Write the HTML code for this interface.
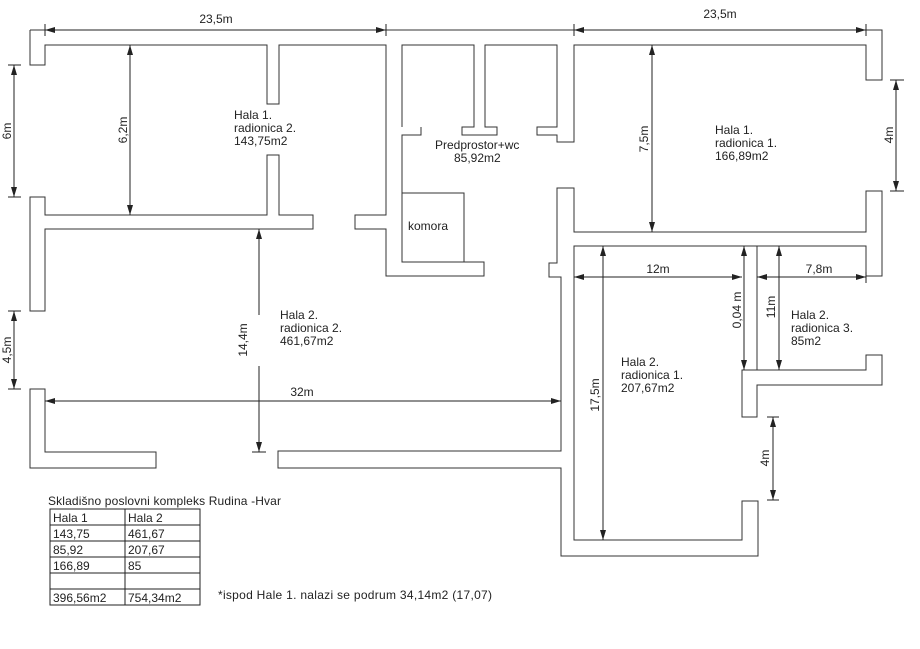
<!DOCTYPE html>
<html><head><meta charset="utf-8"><style>
html,body{margin:0;padding:0;background:#fff;}
svg{display:block;}
text{font-family:"Liberation Sans",Verdana,sans-serif;font-size:12px;fill:#222;}
</style></head><body>
<svg width="920" height="649" viewBox="0 0 920 649" xmlns="http://www.w3.org/2000/svg">
<defs>
<marker id="a" viewBox="0 0 10 6" refX="10" refY="3" markerWidth="10" markerHeight="6" markerUnits="userSpaceOnUse" orient="auto-start-reverse">
<path d="M0,0 L10,3 L0,6 Z" fill="#222"/></marker>
</defs>
<g fill="none" stroke="#333" stroke-width="1">
<polyline points="30,30 30,65 45,65 45,45 267,45 267,104 279,104 279,45 386,45 386,215 355,215 355,229 386,229 386,276 484,276 484,262 402,262 402,135 421,135 421,127"/>
<polyline points="30,30 882,30 882,80 866,80 866,45 574,45 574,142 557,142 557,135 537,135 537,127 557,127 557,45 485,45 485,127 497,127 497,135 462,135 462,127 474,127 474,45 402,45 402,127"/>
<polygon points="267,155 267,215 45,215 45,197 30,197 30,311 45,311 45,229 313,229 313,215 279,215 279,155"/>
<polyline points="402,193 464,193 464,262"/>
<polygon points="882,191 866,191 866,232 574,232 574,188 557,188 557,263 549,263 549,277 561,277 561,451 278,451 278,468 561,468 561,556 758,556 758,501 742,501 742,540 574,540 574,246 866,246 866,276 882,276"/>
<polygon points="742,417 742,370 866,370 866,355 882,355 882,385 757,385 757,417"/>
<line x1="757" y1="246" x2="757" y2="370"/>
<polygon points="30,389 45,389 45,452 156,452 156,468 30,468"/>
</g>
<g stroke="#222" stroke-width="1" fill="none">
<line x1="45" y1="30" x2="386" y2="30" marker-start="url(#a)" marker-end="url(#a)"/>
<line x1="45" y1="24" x2="45" y2="36"/><line x1="386" y1="24" x2="386" y2="36"/>
<line x1="574" y1="30" x2="866" y2="30" marker-start="url(#a)" marker-end="url(#a)"/>
<line x1="574" y1="24" x2="574" y2="36"/><line x1="866" y1="24" x2="866" y2="36"/>
<line x1="14" y1="65" x2="14" y2="197" marker-start="url(#a)" marker-end="url(#a)"/>
<line x1="8" y1="65" x2="21" y2="65"/><line x1="8" y1="197" x2="21" y2="197"/>
<line x1="130" y1="45" x2="130" y2="215" marker-start="url(#a)" marker-end="url(#a)"/>
<line x1="259" y1="229" x2="259" y2="315" marker-start="url(#a)"/>
<line x1="259" y1="366" x2="259" y2="452" marker-end="url(#a)"/>
<line x1="252" y1="452" x2="266" y2="452"/>
<line x1="14" y1="311" x2="14" y2="389" marker-start="url(#a)" marker-end="url(#a)"/>
<line x1="8" y1="311" x2="21" y2="311"/><line x1="8" y1="389" x2="21" y2="389"/>
<line x1="45" y1="401" x2="561" y2="401" marker-start="url(#a)" marker-end="url(#a)"/>
<line x1="652" y1="45" x2="652" y2="232" marker-start="url(#a)" marker-end="url(#a)"/>
<line x1="896" y1="80" x2="896" y2="191" marker-start="url(#a)" marker-end="url(#a)"/>
<line x1="890" y1="80" x2="904" y2="80"/><line x1="890" y1="191" x2="904" y2="191"/>
<line x1="574" y1="277" x2="742" y2="277" marker-start="url(#a)" marker-end="url(#a)"/>
<line x1="757" y1="277" x2="866" y2="277" marker-start="url(#a)" marker-end="url(#a)"/>
<line x1="866" y1="272" x2="866" y2="283"/>
<line x1="744" y1="246" x2="744" y2="370" marker-start="url(#a)" marker-end="url(#a)"/>
<line x1="779" y1="246" x2="779" y2="370" marker-start="url(#a)" marker-end="url(#a)"/>
<line x1="603" y1="246" x2="603" y2="540" marker-start="url(#a)" marker-end="url(#a)"/>
<line x1="773" y1="417" x2="773" y2="500" marker-start="url(#a)" marker-end="url(#a)"/>
<line x1="767" y1="417" x2="779" y2="417"/><line x1="767" y1="500" x2="779" y2="500"/>
<rect x="50" y="509" width="150" height="96"/>
<line x1="125" y1="509" x2="125" y2="605"/>
<line x1="50" y1="525" x2="200" y2="525"/><line x1="50" y1="541" x2="200" y2="541"/>
<line x1="50" y1="557" x2="200" y2="557"/><line x1="50" y1="573" x2="200" y2="573"/>
<line x1="50" y1="589" x2="200" y2="589"/>
</g>
<text x="216" y="23" text-anchor="middle">23,5m</text>
<text x="720" y="18" text-anchor="middle">23,5m</text>
<text transform="translate(11,131) rotate(-90)" text-anchor="middle">6m</text>
<text transform="translate(127,130) rotate(-90)" text-anchor="middle">6,2m</text>
<text transform="translate(247,340) rotate(-90)" text-anchor="middle">14,4m</text>
<text transform="translate(11,350) rotate(-90)" text-anchor="middle">4,5m</text>
<text x="302" y="396" text-anchor="middle">32m</text>
<text transform="translate(648,139) rotate(-90)" text-anchor="middle">7,5m</text>
<text transform="translate(893,135) rotate(-90)" text-anchor="middle">4m</text>
<text x="658" y="273" text-anchor="middle">12m</text>
<text x="819" y="273" text-anchor="middle">7,8m</text>
<text transform="translate(741,310) rotate(-90)" text-anchor="middle">0,04 m</text>
<text transform="translate(775,307) rotate(-90)" text-anchor="middle">11m</text>
<text transform="translate(599,395) rotate(-90)" text-anchor="middle">17,5m</text>
<text transform="translate(769,458) rotate(-90)" text-anchor="middle">4m</text>
<text x="234" y="119">Hala 1.</text><text x="234" y="132">radionica 2.</text><text x="234" y="145">143,75m2</text>
<text x="435" y="149">Predprostor+wc</text><text x="454" y="162">85,92m2</text>
<text x="408" y="230">komora</text>
<text x="715" y="134">Hala 1.</text><text x="715" y="147">radionica 1.</text><text x="715" y="160">166,89m2</text>
<text x="280" y="319">Hala 2.</text><text x="280" y="332">radionica 2.</text><text x="280" y="345">461,67m2</text>
<text x="621" y="366">Hala 2.</text><text x="621" y="379">radionica 1.</text><text x="621" y="392">207,67m2</text>
<text x="791" y="319">Hala 2.</text><text x="791" y="332">radionica 3.</text><text x="791" y="345">85m2</text>
<text x="48" y="505" textLength="233">Skladišno poslovni kompleks Rudina -Hvar</text>
<text x="53" y="522">Hala 1</text><text x="128" y="522">Hala 2</text>
<text x="53" y="538">143,75</text><text x="128" y="538">461,67</text>
<text x="53" y="554">85,92</text><text x="128" y="554">207,67</text>
<text x="53" y="570">166,89</text><text x="128" y="570">85</text>
<text x="53" y="602">396,56m2</text><text x="128" y="602">754,34m2</text>
<text x="218" y="599" textLength="274">*ispod Hale 1. nalazi se podrum 34,14m2 (17,07)</text>
</svg>
</body></html>
